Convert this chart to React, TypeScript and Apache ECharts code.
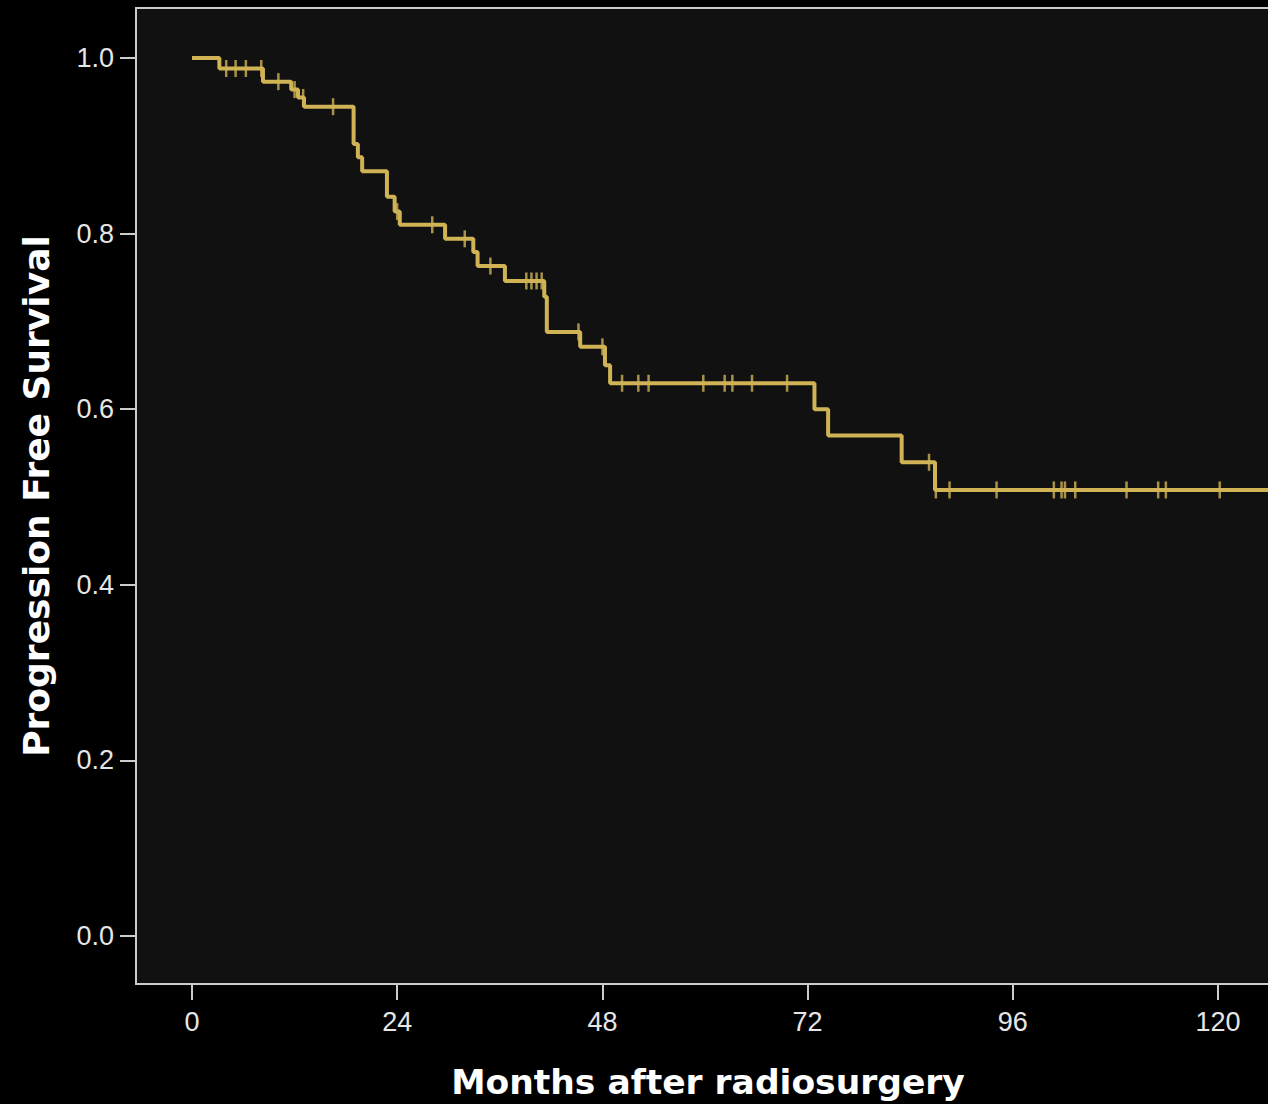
import React, { useEffect, useRef } from "react";
import * as echarts from "echarts";

// Kaplan–Meier step curve: time of each drop (months) and survival after it
const eventTimes = [
  0, 3.2, 8.3, 11.6, 12.4, 13.1, 18.9, 19.4, 19.9, 22.8, 23.7, 24.3, 29.6, 32.9,
  33.4, 36.6, 41.2, 41.5, 45.4, 48.3, 48.9, 72.8, 74.4, 83.0, 86.9,
];
const survival = [
  1.0, 0.988, 0.973, 0.964, 0.955, 0.9445, 0.902, 0.887, 0.871, 0.842, 0.825,
  0.81, 0.794, 0.779, 0.763, 0.746, 0.728, 0.688, 0.671, 0.65, 0.6295, 0.6,
  0.57, 0.5395, 0.508,
];
// censored observations (months)
const censorTimes = [
  4.0, 5.1, 6.3, 8.1, 10.1, 12.0, 13.0, 16.5, 24.0, 28.1, 31.9, 34.9, 39.1,
  39.7, 40.3, 40.9, 45.2, 48.0, 50.3, 52.2, 53.4, 59.8, 62.3, 63.2, 65.5, 69.6,
  86.2, 87.0, 88.6, 94.1, 100.8, 101.7, 102.1, 103.3, 109.3, 113.0, 113.9,
  120.2,
];
const xTicks = [0, 24, 48, 72, 96, 120];
const yTicks = [0, 0.2, 0.4, 0.6, 0.8, 1.0];

const X_MIN = -6.55;
const X_MAX = 127.25;
const Y_MIN = -0.0547;
const Y_MAX = 1.0569;

const LINE_COLOR = "#cfb355";
const FRAME_COLOR = "#cccccc";

function survivalAt(t: number): number {
  let s = survival[0];
  for (let i = 0; i < eventTimes.length; i++) {
    if (eventTimes[i] <= t) s = survival[i];
  }
  return s;
}

export default function App() {
  const ref = useRef<HTMLDivElement>(null);

  useEffect(() => {
    const chart = echarts.init(ref.current!, null, { renderer: "svg" });
    const stepData = eventTimes.map((t, i) => [t, survival[i]]);
    stepData.push([X_MAX, survival[survival.length - 1]]);
    const censorData = censorTimes.map((t) => [t, survivalAt(t)]);

    chart.setOption({
      animation: false,
      backgroundColor: "#000000",
      grid: {
        left: 136,
        top: 8,
        right: -12,
        bottom: 120,
        show: true,
        backgroundColor: "#111111",
        borderColor: FRAME_COLOR,
        borderWidth: 2,
        containLabel: false,
        outerBoundsMode: "none",
      },
      xAxis: {
        type: "value",
        min: X_MIN,
        max: X_MAX,
        name: "Months after radiosurgery",
        nameLocation: "middle",
        nameGap: 80,
        nameTextStyle: {
          color: "#ffffff",
          fontFamily: "DejaVu Sans",
          fontWeight: "bold",
          fontSize: 34.5,
        },
        splitLine: { show: false },
        axisLine: {
          show: true,
          onZero: false,
          lineStyle: { color: FRAME_COLOR, width: 2 },
        },
        axisTick: {
          show: true,
          customValues: xTicks,
          length: 16,
          lineStyle: { color: FRAME_COLOR, width: 2 },
        },
        axisLabel: {
          customValues: xTicks,
          margin: 24,
          color: "#e6e6e6",
          fontFamily: "Liberation Sans",
          fontSize: 27,
          formatter: (v: number) => String(v),
        },
      },
      yAxis: {
        type: "value",
        min: Y_MIN,
        max: Y_MAX,
        name: "Progression Free Survival",
        nameLocation: "middle",
        nameGap: 82,
        nameTextStyle: {
          color: "#ffffff",
          fontFamily: "DejaVu Sans",
          fontWeight: "bold",
          fontSize: 36,
        },
        splitLine: { show: false },
        axisLine: {
          show: true,
          onZero: false,
          lineStyle: { color: FRAME_COLOR, width: 2 },
        },
        axisTick: {
          show: true,
          customValues: yTicks,
          length: 16,
          lineStyle: { color: FRAME_COLOR, width: 2 },
        },
        axisLabel: {
          customValues: yTicks,
          margin: 22,
          color: "#e6e6e6",
          fontFamily: "Liberation Sans",
          fontSize: 27,
          formatter: (v: number) => v.toFixed(1),
        },
      },
      series: [
        {
          type: "line",
          step: "end",
          data: stepData,
          symbol: "none",
          lineStyle: { color: LINE_COLOR, width: 4 },
          clip: true,
          z: 2,
        },
        {
          type: "scatter",
          data: censorData,
          symbol: "rect",
          symbolSize: [2.5, 17],
          itemStyle: { color: LINE_COLOR },
          z: 3,
        },
      ],
    });
    return () => chart.dispose();
  }, []);

  return (
    <div
      ref={ref}
      style={{
        position: "absolute",
        left: 0,
        top: 0,
        width: 1268,
        height: 1104,
        background: "#000",
      }}
    />
  );
}
